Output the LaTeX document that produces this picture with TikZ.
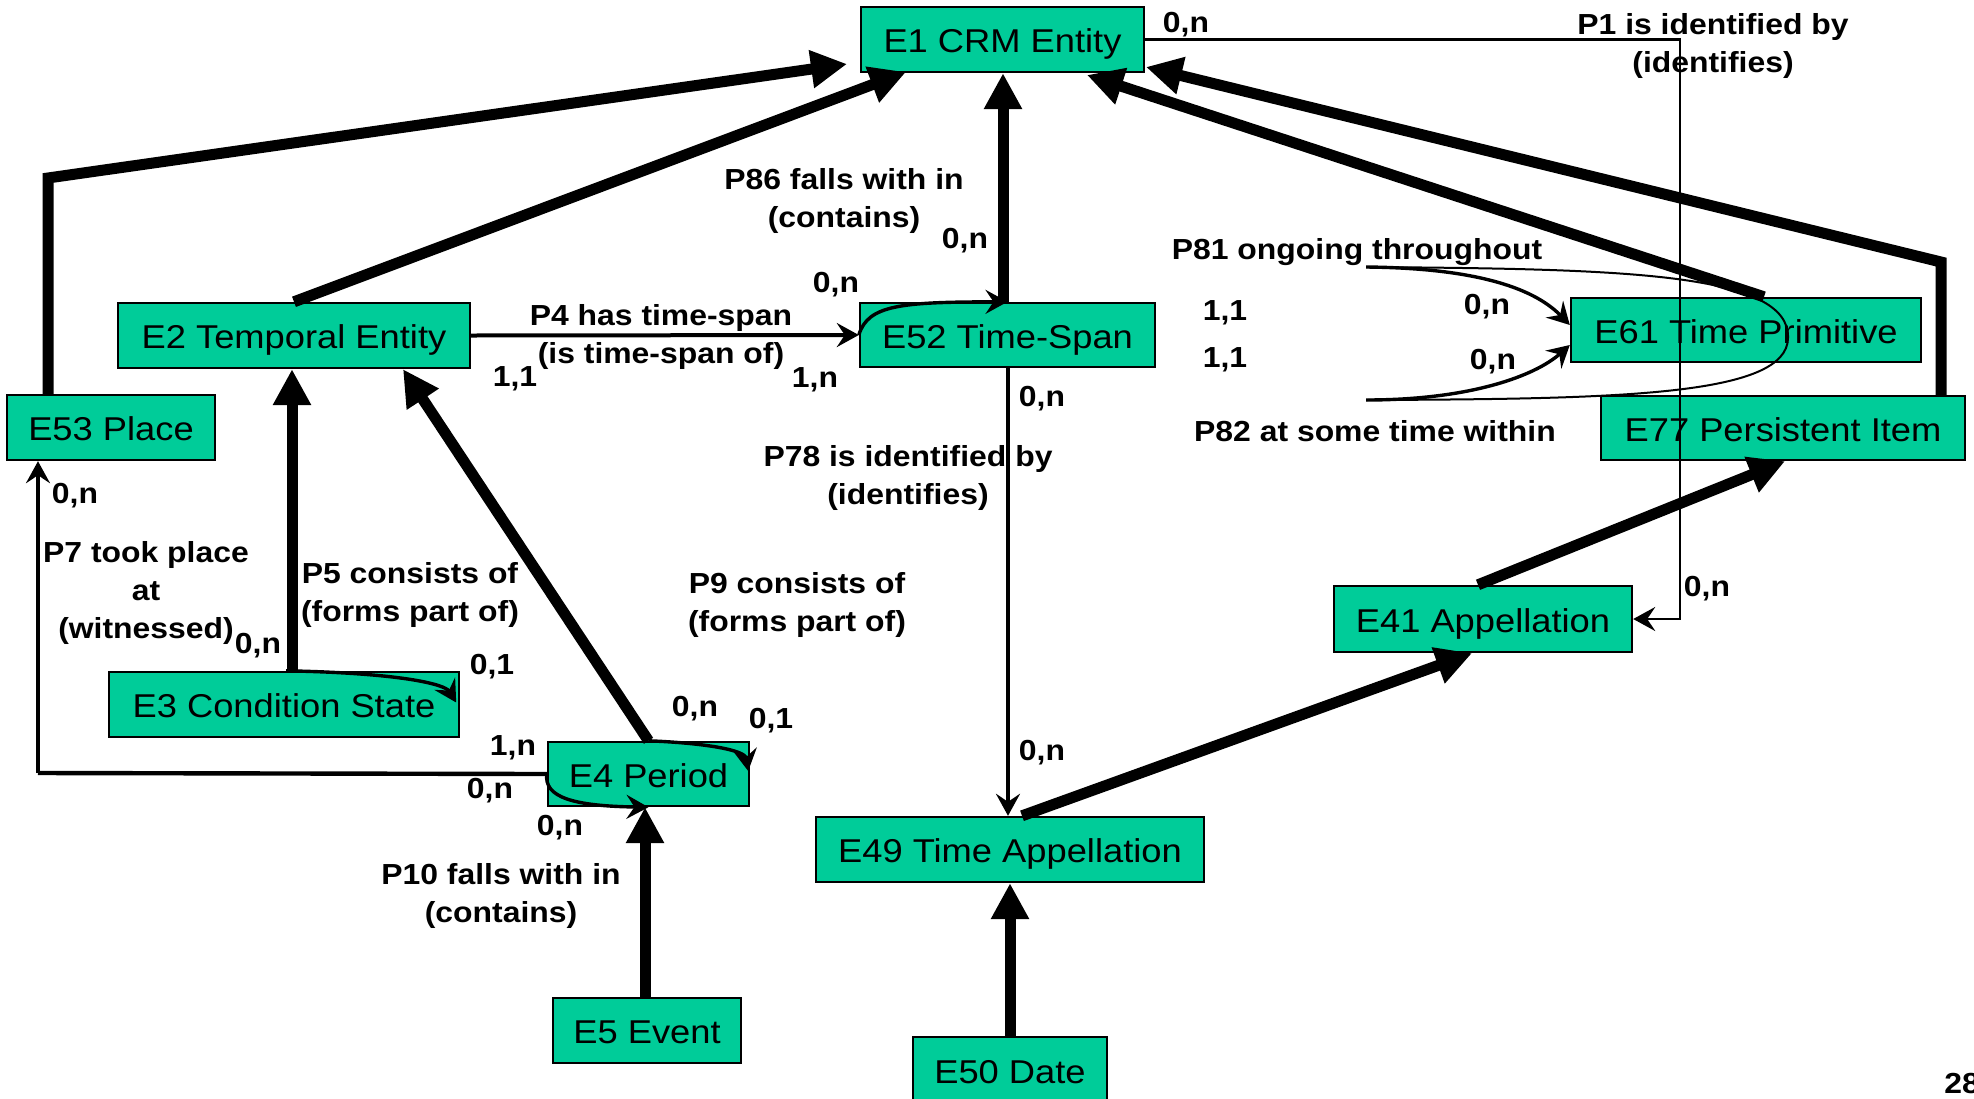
\documentclass[tikz,border=0pt]{standalone}
\usepackage{fontspec}
\setmainfont{Liberation Sans}[FakeStretch=1.1]
\usetikzlibrary{arrows.meta,calc}
\definecolor{entfill}{RGB}{0,204,153}

\begin{document}
\begin{tikzpicture}[x=0.5pt,y=-0.5pt,
  ent/.style 2 args={draw=black, line width=1.2pt, fill=entfill, inner sep=0pt,
    minimum width=#1*0.5pt, minimum height=#2*0.5pt,
    text height=0.72em+6pt, text depth=0pt,
    font=\fontsize{16.5}{19}\selectfont},
  lbl/.style={inner sep=0pt, align=center, yshift=-1.5pt,
    font=\bfseries\fontsize{14.5}{19}\selectfont},
  isa/.style={line width=5.5pt, line join=miter, -{Triangle[length=18pt,width=18pt]}},
  prop/.style={line width=1.7pt, -{Stealth[length=11pt,width=12pt,inset=4pt]}},
  propthin/.style={line width=1.3pt, -{Stealth[length=11pt,width=12pt,inset=4pt]}},
]
\useasboundingbox (0,0) rectangle (1974,1098);
\fill[white] (0,0) rectangle (1974,1098);
\clip (0,0) rectangle (1974,1098);

% entity boxes
\node[ent={283}{65}] (e1)  at (1002.5,39.5) {E1 CRM Entity};
\node[ent={352}{65}] (e2)  at (294,335.5)   {E2 Temporal Entity};
\node[ent={295}{64}] (e52) at (1007.5,335)  {E52 Time-Span};
\node[ent={350}{64}] (e61) at (1746,330)    {E61 Time Primitive};
\node[ent={364}{64}] (e77) at (1783,428)    {E77 Persistent Item};
\node[ent={208}{65}] (e53) at (111,427.5)   {E53 Place};
\node[ent={350}{65}] (e3)  at (284,704.5)   {E3 Condition State};
\node[ent={201}{64}] (e4)  at (648.5,774)   {E4 Period};
\node[ent={188}{65}] (e5)  at (647,1030.5)  {E5 Event};
\node[ent={388}{65}] (e49) at (1010,849.5)  {E49 Time Appellation};
\node[ent={194}{66}] (e50) at (1010,1070)   {E50 Date};
\node[ent={298}{66}] (e41) at (1483,619)    {E41 Appellation};

% bends and free ends of connectors
\coordinate (placeBend) at (48,178);
\coordinate (placeTip)  at (847,64);
\coordinate (persBend)  at (1941,262);
\coordinate (persTip)   at (1146,67);
\coordinate (primTip)   at (1087,75);
\coordinate (tempTip)   at (906,72);
\coordinate (p7corner)  at (38,773);
\coordinate (p1a)       at (1680,39.5);
\coordinate (p1b)       at (1680,619);
\coordinate (p81s)      at (1366,267);
\coordinate (p82s)      at (1366,400);

% is-a links
\draw[isa] (e53.north -| placeBend) -- (placeBend) -- (placeTip);
\draw[isa] (e2.north) -- (tempTip);
\draw[isa] (e52.north -| 1003,0) -- (e1.south -| 1003,0);
\draw[isa] (e61.north -| 1764,0) -- (primTip);
\draw[isa] (e77.north -| persBend) -- (persBend) -- (persTip);
\draw[isa] (e4.north) -- (e2.south -| 403,0);
\draw[isa] (e3.north -| 292,0) -- (e2.south -| 292,0);
\draw[isa] (e5.north -| 645,0) -- (e4.south -| 645,0);
\draw[isa] (e50.north) -- (e49.south);
\draw[isa] (e49.north -| 1022,0) -- (e41.south -| 1472,0);
\draw[isa] (e41.north -| 1478,0) -- (e77.south -| 1785,0);

% properties
\draw[prop, line width=2pt] (e2.east) -- (e52.west);
\draw[prop] (e52.west) .. controls (868,305) and (900,302) .. (e52.north);
\draw[prop] (e52.south -| 1008,0) -- (e49.north -| 1008,0);
\draw[prop] (e3.north -| 286,0) .. controls (400,673) and (445,684) .. ($(e3.east)+(-4,-2)$);
\draw[prop] (e4.north) .. controls (705,743) and (745,750) .. ($(e4.east)+(-2,-3)$);
\draw[prop] (e4.west) .. controls (544,797) and (572,806) .. (e4.south);
\draw[line width=2.2pt] (e4.west) -- (p7corner);
\draw[prop] (p7corner) -- (e53.south -| p7corner);
\draw[propthin] (e1.east) -- (p1a) -- (p1b) -- (e41.east);
\draw[prop] (p81s) .. controls (1470,268) and (1532,286) .. ($(e61.west)+(0,-5)$);
\draw[prop] (p82s) .. controls (1470,400) and (1535,376) .. ($(e61.west)+(0,15)$);
\draw[line width=1pt] (p81s) .. controls (1620,269) and (1790,272) .. (1788,338)
  .. controls (1787,396) and (1620,399) .. (p82s);

% property names and cardinalities
\node[lbl] at (1713,43) {P1 is identified by\\(identifies)};
\node[lbl] at (1186,22) {0,n};
\node[lbl] at (844,198) {P86 falls with in\\(contains)};
\node[lbl] at (965,238) {0,n};
\node[lbl] at (836,282) {0,n};
\node[lbl] at (661,334) {P4 has time-span\\(is time-span of)};
\node[lbl] at (515,376) {1,1};
\node[lbl] at (815,377) {1,n};
\node[lbl] at (1357,249) {P81 ongoing throughout};
\node[lbl] at (1225,310) {1,1};
\node[lbl] at (1225,357) {1,1};
\node[lbl] at (1487,304) {0,n};
\node[lbl] at (1493,359) {0,n};
\node[lbl] at (1375,428) {P82 at some time within};
\node[lbl] at (1042,396) {0,n};
\node[lbl] at (908,475) {P78 is identified by\\(identifies)};
\node[lbl] at (797,602) {P9 consists of\\(forms part of)};
\node[lbl] at (1042,750) {0,n};
\node[lbl] at (695,706) {0,n};
\node[lbl] at (771,718) {0,1};
\node[lbl] at (75,493) {0,n};
\node[lbl] at (146,590) {P7 took place\\at\\(witnessed)};
\node[lbl] at (258,643) {0,n};
\node[lbl] at (410,592) {P5 consists of\\(forms part of)};
\node[lbl] at (492,664) {0,1};
\node[lbl] at (513,745) {1,n};
\node[lbl] at (490,788) {0,n};
\node[lbl] at (560,825) {0,n};
\node[lbl] at (501,893) {P10 falls with in\\(contains)};
\node[lbl] at (1707,586) {0,n};
\node[lbl, anchor=west] at (1944,1080) {28};
\end{tikzpicture}
\end{document}
